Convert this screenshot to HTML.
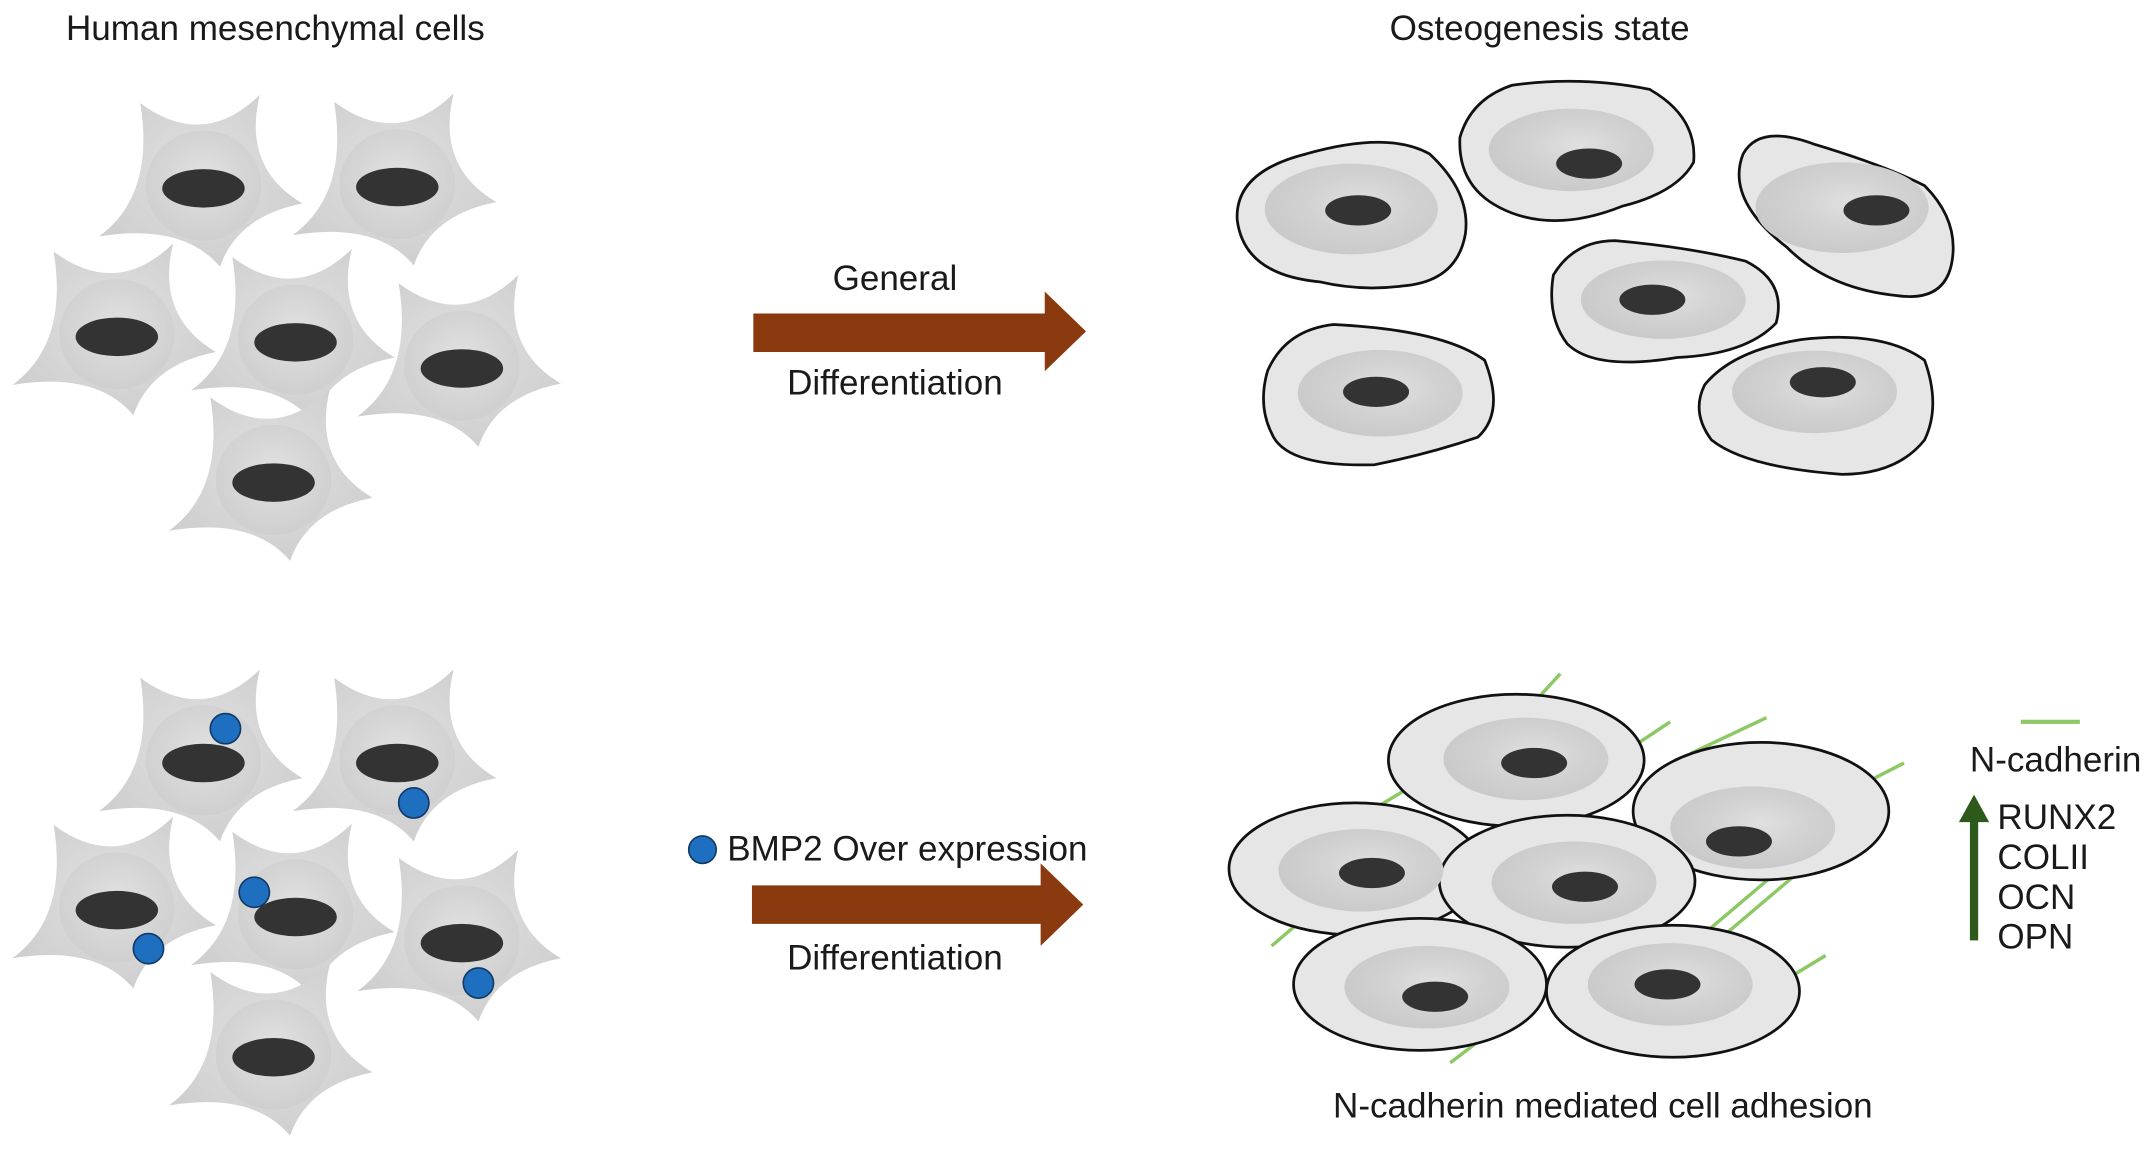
<!DOCTYPE html>
<html><head><meta charset="utf-8"><style>
html,body{margin:0;padding:0;background:#fff;}
svg{display:block;}
text{font-family:"Liberation Sans",Arial,sans-serif;fill:#1a1a1a;font-size:25.5px;}
</style></head><body>
<svg width="2150" height="1159" viewBox="0 0 1564 843" preserveAspectRatio="none" xmlns="http://www.w3.org/2000/svg">
<defs>
<radialGradient id="mg" cx="50%" cy="45%" r="55%">
<stop offset="0" stop-color="#e2e2e2"/><stop offset="0.6" stop-color="#d6d6d6"/><stop offset="1" stop-color="#cfcfcf"/>
</radialGradient>
<radialGradient id="ring" cx="55%" cy="45%" r="55%">
<stop offset="0" stop-color="#e0e0e0"/><stop offset="0.55" stop-color="#d2d2d2"/><stop offset="1" stop-color="#cacaca"/>
</radialGradient>
<g id="msc">
<path d="M-46,-62 Q0,-28 41,-68 Q28,-15 72,11 Q25,20 12,57 Q-15,25 -76,35 Q-35,5 -46,-62 Z" fill="url(#mg)"/>
<ellipse cx="0" cy="-2" rx="42" ry="40" fill="url(#mg)"/>
<ellipse cx="0" cy="0" rx="30" ry="14" fill="#333"/>
</g>
<g id="ost">
<ellipse cx="0" cy="0" rx="60" ry="30" fill="url(#ring)"/>
</g>
</defs>

<text x="48" y="29">Human mesenchymal cells</text>
<text x="1120" y="29" text-anchor="middle">Osteogenesis state</text>

<use href="#msc" transform="translate(148,137)"/>
<use href="#msc" transform="translate(289,136)"/>
<use href="#msc" transform="translate(85,245)"/>
<use href="#msc" transform="translate(215,249)"/>
<use href="#msc" transform="translate(336,268)"/>
<use href="#msc" transform="translate(199,351)"/>

<use href="#msc" transform="translate(148,555)"/>
<use href="#msc" transform="translate(289,555)"/>
<use href="#msc" transform="translate(85,662)"/>
<use href="#msc" transform="translate(215,667)"/>
<use href="#msc" transform="translate(336,686)"/>
<use href="#msc" transform="translate(199,769)"/>
<g fill="#1f6fc1" stroke="#123a66" stroke-width="1.2">
<circle cx="164" cy="530" r="11"/><circle cx="301" cy="584" r="11"/><circle cx="108" cy="690" r="11"/>
<circle cx="185" cy="649" r="11"/><circle cx="348" cy="715" r="11"/>
<circle cx="511" cy="618" r="10"/>
</g>

<polygon points="548,228 760,228 760,212 790,241 760,270 760,256 548,256" fill="#8b3a0f"/>
<polygon points="547,644 757,644 757,628 788,658 757,688 757,672 547,672" fill="#8b3a0f"/>
<text x="651" y="211" text-anchor="middle">General</text>
<text x="651" y="287" text-anchor="middle">Differentiation</text>
<text x="529" y="626">BMP2 Over expression</text>
<text x="651" y="705" text-anchor="middle">Differentiation</text>

<g stroke="#111" stroke-width="2" fill="#e6e6e6">
<path d="M900,160 Q898,125 950,112 Q1010,95 1040,112 Q1070,140 1066,170 Q1060,205 1020,208 Q990,212 960,205 Q905,200 900,160Z"/>
<path d="M1062,100 Q1070,72 1100,62 Q1150,55 1200,65 Q1235,85 1232,118 Q1220,140 1180,150 Q1135,168 1100,155 Q1060,140 1062,100Z"/>
<path d="M1268,112 Q1280,90 1320,105 Q1370,120 1400,135 Q1425,160 1420,190 Q1415,220 1380,215 Q1330,210 1300,180 Q1255,145 1268,112Z"/>
<path d="M1130,200 Q1145,175 1175,175 Q1230,180 1270,190 Q1300,205 1292,235 Q1270,258 1220,260 Q1160,270 1140,250 Q1125,230 1130,200Z"/>
<path d="M922,270 Q935,240 970,236 Q1050,240 1080,262 Q1095,300 1075,318 Q1040,330 1000,338 Q935,340 925,315 Q915,295 922,270Z"/>
<path d="M1240,280 Q1260,255 1310,247 Q1370,240 1400,262 Q1412,295 1400,320 Q1380,345 1340,345 Q1270,340 1245,320 Q1230,300 1240,280Z"/>
</g>
<use href="#ost" transform="translate(983,152) scale(1.05,1.1)"/>
<use href="#ost" transform="translate(1143,109)"/>
<use href="#ost" transform="translate(1340,151) scale(1.05,1.1)"/>
<use href="#ost" transform="translate(1210,218) scale(1,0.95)"/>
<use href="#ost" transform="translate(1004,286) scale(1,1.05)"/>
<use href="#ost" transform="translate(1320,285) scale(1,1)"/>
<g fill="#333">
<ellipse cx="988" cy="153" rx="24" ry="11"/><ellipse cx="1156" cy="119" rx="24" ry="11"/>
<ellipse cx="1365" cy="153" rx="24" ry="11"/><ellipse cx="1202" cy="218" rx="24" ry="11"/>
<ellipse cx="1001" cy="285" rx="24" ry="11"/><ellipse cx="1326" cy="278" rx="24" ry="11"/>
</g>

<g stroke="#8cc864" stroke-width="2.5">
<line x1="1085" y1="545" x2="1135" y2="490"/>
<line x1="925" y1="688" x2="1005" y2="620"/>
<line x1="1055" y1="773" x2="1105" y2="735"/>
<line x1="1170" y1="555" x2="1215" y2="525"/>
<line x1="1230" y1="548" x2="1285" y2="522"/>
<line x1="1300" y1="712" x2="1328" y2="695"/>
<line x1="1340" y1="578" x2="1385" y2="555"/>
<line x1="1215" y1="700" x2="1300" y2="628"/>
<line x1="1225" y1="705" x2="1310" y2="633"/>
<line x1="980" y1="600" x2="1030" y2="570"/>
<line x1="1470" y1="525" x2="1513" y2="525" stroke-width="3"/>
</g>

<g stroke="#111" stroke-width="2" fill="#e6e6e6">
<ellipse cx="1103" cy="553" rx="93" ry="48"/>
<ellipse cx="1281" cy="590" rx="93" ry="50"/>
<ellipse cx="986" cy="632" rx="92" ry="48"/>
<ellipse cx="1140" cy="641" rx="93" ry="48"/>
<ellipse cx="1033" cy="716" rx="92" ry="48"/>
<ellipse cx="1217" cy="721" rx="92" ry="48"/>
</g>
<use href="#ost" transform="translate(1110,552)"/>
<use href="#ost" transform="translate(1275,602)"/>
<use href="#ost" transform="translate(990,633)"/>
<use href="#ost" transform="translate(1145,642)"/>
<use href="#ost" transform="translate(1038,718)"/>
<use href="#ost" transform="translate(1215,716)"/>
<g fill="#333">
<ellipse cx="1116" cy="555" rx="24" ry="11"/><ellipse cx="1265" cy="612" rx="24" ry="11"/>
<ellipse cx="998" cy="635" rx="24" ry="11"/><ellipse cx="1153" cy="645" rx="24" ry="11"/>
<ellipse cx="1044" cy="725" rx="24" ry="11"/><ellipse cx="1213" cy="716" rx="24" ry="11"/>
</g>

<text x="1433" y="561">N-cadherin</text>
<line x1="1436" y1="684" x2="1436" y2="595" stroke="#2d5a1b" stroke-width="6"/>
<polygon points="1425,598 1436,578 1447,598" fill="#2d5a1b"/>
<text x="1453" y="603">RUNX2</text>
<text x="1453" y="632">COLII</text>
<text x="1453" y="661">OCN</text>
<text x="1453" y="690">OPN</text>
<text x="1166" y="813" text-anchor="middle">N-cadherin mediated cell adhesion</text>
</svg>
</body></html>
